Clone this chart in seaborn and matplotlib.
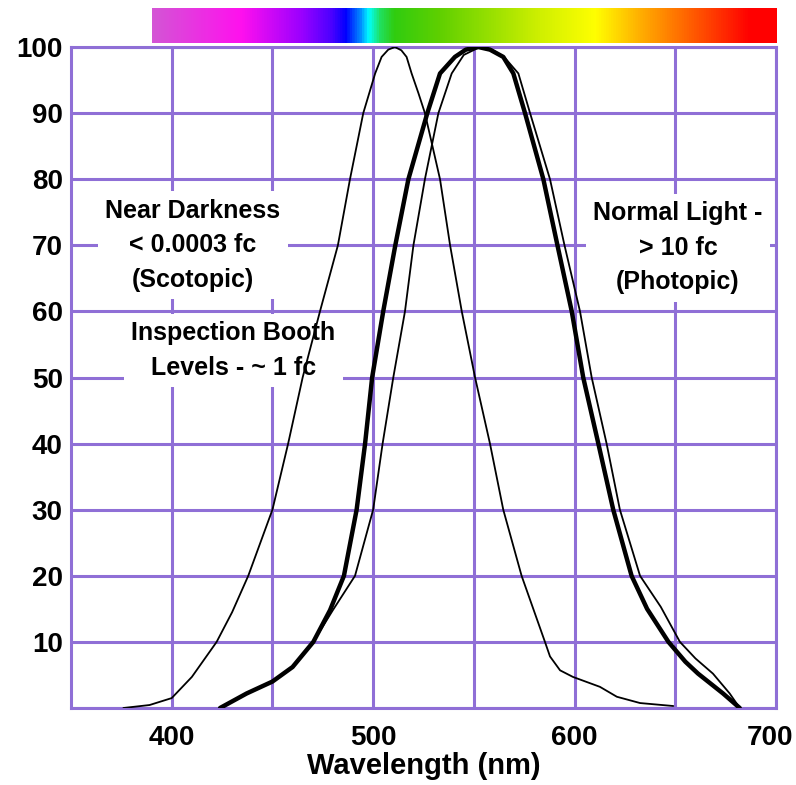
import numpy as np
import pandas as pd
import matplotlib
matplotlib.use("Agg")
import matplotlib.pyplot as plt
from matplotlib.colors import LinearSegmentedColormap
from matplotlib.transforms import ScaledTranslation
import seaborn as sns

# ---- data ----
scot_wl = [376, 389, 400, 410, 422.3, 430, 438, 444, 450, 457.8, 465, 473.6, 482.5, 488.5, 495.1,
           501, 504.2, 507.5, 510.8, 514, 516.6, 519.1, 522.5, 525.7, 533.2, 538.2, 544,
           550.6, 558, 564.6, 573.7, 579.5, 585.3, 587.8, 592.8, 599.2, 612.6, 621, 632.5, 649]
scot_val = [0, 0.45, 1.5, 4.7, 10, 14.5, 20, 25, 30, 40, 50, 60, 70, 80, 90,
            96, 98.5, 99.6, 100, 99.5, 98.5, 96, 93, 90, 80, 70, 60,
            50, 40, 30, 20, 15, 10, 7.8, 5.7, 4.7, 3.2, 1.7, 0.75, 0.3]

phot_wl = [424, 437.2, 450, 460, 470.3, 478.6, 485.5, 491.8, 496, 499.5, 505, 511, 517.5,
           526.9, 533.2, 540.6, 546, 552.2, 558, 564.6, 569.6, 575.4, 584.5, 591.5, 598.6,
           604.3, 611.8, 619.2, 628.3, 636, 646.6, 655, 661.3, 673.7, 682]
phot_val = [0, 2.2, 4, 6.2, 10, 14.8, 20, 30, 40, 50, 60, 70, 80,
            90, 96, 98.5, 99.6, 100, 99.6, 98.5, 96, 90, 80, 70, 60,
            50, 40, 30, 20, 15, 10, 7, 5.2, 2.2, 0]

meso_wl = [424, 437.2, 450, 460, 470.3, 480, 491, 500, 504.7, 510, 515.8, 520, 525.7,
           532.4, 539, 545, 553, 559, 565, 572.1, 577.9, 587.8, 595, 602.7, 608.5,
           615.9, 622.5, 632.5, 642.8, 652.3, 660, 668.7, 677, 682]
meso_val = [0, 2.2, 4, 6.2, 10, 14.8, 20, 30, 40, 50, 60, 70, 80,
            90, 96, 98.8, 100, 99.6, 98.5, 96, 90, 80, 70, 60, 50,
            40, 30, 20, 15.3, 10, 7.5, 5.2, 2.2, 0]

x_ticks = [400, 450, 500, 550, 600, 650, 700]
x_labels = ["400", "", "500", "", "600", "", "700"]
y_ticks = [0, 10, 20, 30, 40, 50, 60, 70, 80, 90, 100]
y_labels = ["", "10", "20", "30", "40", "50", "60", "70", "80", "90", "100"]

spec_wl = [390, 434, 464, 479, 486, 493.5, 497.4, 503, 510, 533, 583, 610, 632, 657, 687, 700]
spec_col = ["#d455d5", "#ff10ee", "#9a00ff", "#4a00ff", "#0000ff", "#0090ff", "#00ffff",
            "#20e060", "#30cc10", "#60d000", "#d0f000", "#ffff00", "#ffb000", "#ff6000",
            "#ff0000", "#ff0000"]

# ---- styling ----
sns.set_style("white")
plt.rcParams["font.family"] = ["Liberation Sans", "DejaVu Sans"]
plt.rcParams["font.weight"] = "bold"
plt.rcParams["text.color"] = "black"
plt.rcParams["axes.labelcolor"] = "black"

W, H = 796, 785
fig = plt.figure(figsize=(W / 100, H / 100), dpi=100)
ax = fig.add_axes([71 / W, 1 - 708 / H, (776 - 71) / W, (708 - 47) / H])

grid_c = "#8f6fd6"

df_s = pd.DataFrame({"wl": scot_wl, "val": scot_val})
df_p = pd.DataFrame({"wl": phot_wl, "val": phot_val})
df_m = pd.DataFrame({"wl": meso_wl, "val": meso_val})

kw = dict(solid_joinstyle="round", solid_capstyle="round")
sns.lineplot(data=df_s, x="wl", y="val", ax=ax, color="black", lw=1.3, zorder=3, **kw)
sns.lineplot(data=df_m, x="wl", y="val", ax=ax, color="black", lw=1.3, zorder=3, **kw)
sns.lineplot(data=df_p, x="wl", y="val", ax=ax, color="black", lw=3.2, zorder=3, **kw)

ax.set_xlim(350, 700)
ax.set_ylim(0, 100)
ax.set_xticks(x_ticks)
ax.set_xticklabels(x_labels)
ax.set_yticks(y_ticks)
ax.set_yticklabels(y_labels)
ax.set_axisbelow(True)
ax.grid(True, color=grid_c, lw=2.2)
for s in ax.spines.values():
    s.set_color(grid_c)
    s.set_linewidth(2.2)
ax.tick_params(axis="both", length=0, labelsize=20, labelcolor="black")
ax.tick_params(axis="x", pad=12)
ax.tick_params(axis="y", pad=6)
for t in ax.get_xticklabels() + ax.get_yticklabels():
    t.set_fontweight("bold")
last = ax.get_xticklabels()[-1]
last.set_transform(last.get_transform() + ScaledTranslation(-6 / 100, 0, fig.dpi_scale_trans))
ax.set_xlabel("Wavelength (nm)", fontsize=21, fontweight="bold", labelpad=1)
ax.set_ylabel("")

box = dict(boxstyle="square,pad=0.3", facecolor="white", edgecolor="none")
ax.text(410.5, 70.0, "Near Darkness\n< 0.0003 fc\n(Scotopic)", ha="center", va="center",
        fontsize=18, fontweight="bold", linespacing=1.55, bbox=box, zorder=2)
ax.text(430.5, 54.1, "Inspection Booth\nLevels - ~ 1 fc", ha="center", va="center",
        fontsize=18, fontweight="bold", linespacing=1.55, bbox=box, zorder=2)
ax.text(651.3, 69.6, "Normal Light -\n> 10 fc\n(Photopic)", ha="center", va="center",
        fontsize=18, fontweight="bold", linespacing=1.55, bbox=box, zorder=2)

# spectrum bar
cax = fig.add_axes([152 / W, 1 - 43 / H, (777 - 152) / W, 35 / H])
pos = [(w - spec_wl[0]) / (spec_wl[-1] - spec_wl[0]) for w in spec_wl]
cmap = LinearSegmentedColormap.from_list("spec", list(zip(pos, spec_col)))
grad = np.linspace(0, 1, 512)[None, :]
cax.imshow(grad, aspect="auto", cmap=cmap, extent=[spec_wl[0], spec_wl[-1], 0, 1])
cax.set_axis_off()

fig.savefig("out.png", dpi=100)
